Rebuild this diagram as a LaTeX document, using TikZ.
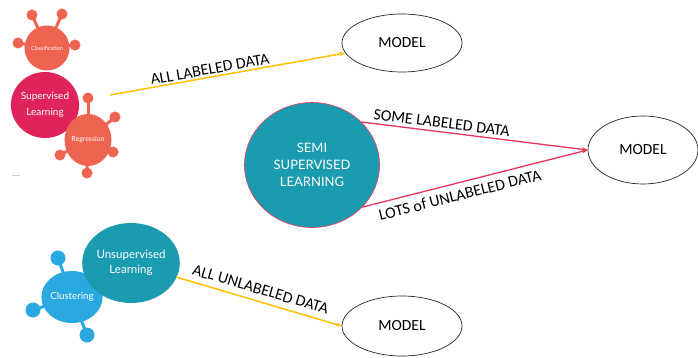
\documentclass[tikz,border=0pt]{standalone}
\usepackage{fontspec}
\setmainfont{Carlito}
\newfontfamily\gillfont{Lato}
\usetikzlibrary{arrows.meta,shapes.geometric}
\definecolor{supcrimson}{HTML}{E0245A}
\definecolor{salmonorange}{HTML}{EF6351}
\definecolor{tealblue}{HTML}{1B9BAF}
\definecolor{skyblue}{HTML}{2AA8E0}
\definecolor{arrowyellow}{HTML}{FFC000}
\definecolor{arrowpink}{HTML}{E8365B}
\tikzset{
	model/.style={draw=black!85, line width=0.7pt, ellipse, inner sep=0pt, minimum width=120pt, minimum height=58pt, font=\fontsize{15.5}{18}\selectfont},
	blob/.style={ellipse, inner sep=0pt, text=white, align=center},
	stem/.style={line width=3pt},
	yellowline/.style={arrowyellow, line width=1.5pt, -{Stealth[length=6pt,width=4.5pt]}},
	pinkline/.style={arrowpink, line width=1.3pt, -{Stealth[length=6pt,width=4.5pt]}},
	datalabel/.style={sloped, text=black, font=\fontsize{16}{18}\selectfont, inner sep=1pt}
}

\begin{document}
\begin{tikzpicture}[x=1pt,y=-1pt]
			\useasboundingbox (0,0) rectangle (698,358);
			
			% supervised group
			\coordinate (classif-c) at (47,48);
			\foreach \kx/\ky in {32/15,62/14,18/43,75/45}{
				\draw[stem,salmonorange] (classif-c) -- (\kx,\ky);
				\fill[salmonorange] (\kx,\ky) circle (5.5pt);
			}
			\node[blob, fill=salmonorange, minimum width=37pt, minimum height=45pt, font=\gillfont\fontsize{5.5}{7}\selectfont] (classif) at (classif-c) {Classification};
			\node[blob, fill=supcrimson, minimum width=54pt, minimum height=66pt, font=\gillfont\fontsize{10}{16}\selectfont] (sup) at (45,105) {Supervised\\Learning};
			\coordinate (regr-c) at (88,140);
			\foreach \kx/\ky in {88/98,115/117,113/152,87/173,60/155}{
				\draw[stem,salmonorange] (regr-c) -- (\kx,\ky);
				\fill[salmonorange] (\kx,\ky) circle (5.5pt);
			}
			\node[blob, fill=salmonorange, minimum width=36pt, minimum height=52pt, font=\gillfont\fontsize{7}{9}\selectfont] (regr) at (regr-c) {Regression};
			\draw[gray!40, line width=0.8pt] (12,175) -- (20,175);
			
			% unsupervised group
			\coordinate (clust-c) at (72,297);
			\foreach \kx/\ky in {58/258,33/310,87/335,105/280}{
				\draw[stem,skyblue] (clust-c) -- (\kx,\ky);
				\fill[skyblue] (\kx,\ky) circle (7.5pt);
			}
			\node[blob, fill=skyblue, minimum width=54pt, minimum height=52pt, font=\gillfont\fontsize{9.7}{12}\selectfont] (clust) at (clust-c) {Clustering};
			\node[blob, fill=tealblue, minimum width=76pt, minimum height=80pt, font=\gillfont\fontsize{11.5}{15}\selectfont] (unsup) at (131,263) {Unsupervised\\Learning};
			
			% semi supervised
			\node[blob, fill=tealblue, draw=arrowpink, line width=0.6pt, minimum width=135pt, minimum height=125pt, font=\gillfont\fontsize{13}{17}\selectfont] (semi) at (312,165) {SEMI\\SUPERVISED\\LEARNING};
			
			% models
			\node[model] (model1) at (402,43) {MODEL};
			\node[model, minimum width=110pt, minimum height=68pt] (model2) at (643,150) {MODEL};
			\node[model, minimum height=60pt] (model3) at (402,326) {MODEL};
			
			% arrows
			\coordinate (sup-out) at (110,95);
			\coordinate (unsup-out) at (176,277);
			\draw[yellowline] (sup-out) -- node[datalabel, above=1pt, pos=.43] {ALL LABELED DATA} (model1);
			\draw[yellowline] (unsup-out) -- node[datalabel, above=5pt, pos=.49] {ALL UNLABELED DATA} (model3.west);
			\draw[pinkline] (semi.41) -- node[datalabel, above=2pt, pos=.35] {SOME LABELED DATA} (model2.west);
			\draw[pinkline] (semi.-40) -- node[datalabel, below=5pt, pos=.42] {LOTS of UNLABELED DATA} (model2.west);
		\end{tikzpicture}
\end{document}
